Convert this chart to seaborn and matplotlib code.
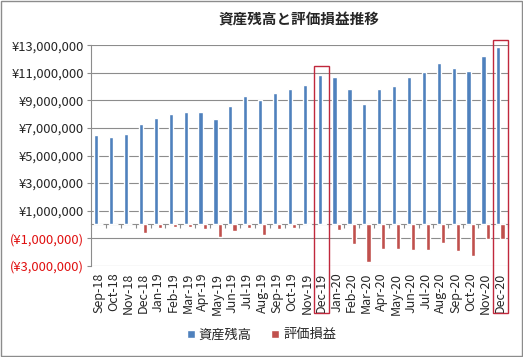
import numpy as np
import pandas as pd
import matplotlib
matplotlib.use('Agg')
import matplotlib.pyplot as plt
import seaborn as sns
from matplotlib.patches import Patch, Rectangle

months = ['Sep-18', 'Oct-18', 'Nov-18', 'Dec-18', 'Jan-19', 'Feb-19', 'Mar-19',
          'Apr-19', 'May-19', 'Jun-19', 'Jul-19', 'Aug-19', 'Sep-19', 'Oct-19',
          'Nov-19', 'Dec-19', 'Jan-20', 'Feb-20', 'Mar-20', 'Apr-20', 'May-20',
          'Jun-20', 'Jul-20', 'Aug-20', 'Sep-20', 'Oct-20', 'Nov-20', 'Dec-20']

# 資産残高 (asset balance)
balance = [6490000, 6370000, 6560000, 7290000, 7750000, 8010000, 8160000,
           8160000, 7670000, 8590000, 9320000, 9030000, 9540000, 9830000,
           10120000, 10840000, 10700000, 9830000, 8740000, 9830000, 10050000,
           10700000, 11060000, 11710000, 11350000, 11130000, 12220000, 12880000]

# 評価損益 (unrealized gain/loss)
gain = [0, 0, 0, -600000, -240000, -170000, -170000,
        -310000, -890000, -460000, -240000, -750000, -310000, -240000,
        -70000, 120000, -380000, -1400000, -2700000, -1760000, -1760000,
        -1840000, -1840000, -1330000, -1910000, -2270000, -1040000, -1040000]

series_names = ['資産残高', '評価損益']
highlight = ['Dec-19', 'Dec-20']

blue = '#4F81BD'
red = '#C0504D'
grid_gray = '#8C8C8C'

df = pd.DataFrame({
    'month': months * 2,
    'series': [series_names[0]] * len(months) + [series_names[1]] * len(months),
    'value': balance + gain,
})

sns.set_style('white')
plt.rcParams['font.family'] = ['Noto Sans CJK JP', 'DejaVu Sans']

fig = plt.figure(figsize=(5.23, 3.57), dpi=100)
ax = fig.add_axes([0.174, 0.2557, 0.797, 0.6173])

sns.barplot(data=df, x='month', y='value', hue='series', hue_order=series_names,
            palette=[blue, red], width=0.56, saturation=1, legend=False, ax=ax)

ymin, ymax = -3000000, 13000000
ax.set_ylim(ymin, ymax)
ax.set_xlim(-0.5, len(months) - 0.5)

yticks = np.arange(ymin, ymax + 1, 2000000)
ylabels = [f'¥{v:,}' if v >= 0 else f'(¥{abs(v):,})' for v in yticks]
ax.set_yticks(yticks, ylabels)
for t, v in zip(ax.get_yticklabels(), yticks):
    if v < 0:
        t.set_color('#E01010')
ax.tick_params(axis='y', labelsize=9.3, length=3, width=0.8, color=grid_gray, pad=2, left=True)
ax.yaxis.grid(True, color=grid_gray, linewidth=0.8)
ax.set_axisbelow(True)

ax.tick_params(axis='x', labelsize=9, rotation=90, length=0, pad=5)
ax.set_xlabel('')
ax.set_ylabel('')

for s in ['top', 'right', 'bottom']:
    ax.spines[s].set_visible(False)
ax.spines['left'].set_color(grid_gray)
ax.spines['left'].set_linewidth(0.8)

# category axis crossing at zero, tick marks between categories
zero_frac = (0 - ymin) / (ymax - ymin)
cat_ax = ax.secondary_xaxis(zero_frac)
cat_ax.set_alignment('bottom')
cat_ax.set_xticks(np.arange(len(months)) + 0.5)
cat_ax.set_xticklabels([])
cat_ax.tick_params(direction='out', length=3, width=0.8, color=grid_gray)
cat_ax.spines['bottom'].set_visible(True)
cat_ax.spines['bottom'].set_color(grid_gray)
cat_ax.spines['bottom'].set_linewidth(0.8)
for s in ['top', 'left', 'right']:
    cat_ax.spines[s].set_visible(False)

ax.set_title('資産残高と評価損益推移', fontsize=10.5, fontweight='bold', pad=15)

# red highlight boxes
box_tops = {'Dec-19': 11500000, 'Dec-20': 13400000}
box_bottom = -6450000
for m in highlight:
    i = months.index(m)
    ax.add_patch(Rectangle((i - 0.5, box_bottom), 1, box_tops[m] - box_bottom,
                           fill=False, edgecolor='#C0283C', linewidth=1, clip_on=False,
                           zorder=5))

handles = [Patch(facecolor=blue), Patch(facecolor=red)]
fig.legend(handles, series_names, loc='center', bbox_to_anchor=(0.5, 0.062), ncol=2,
           frameon=False, fontsize=9.5, handlelength=0.6, handleheight=0.6,
           handletextpad=0.3, columnspacing=1.5)

fig.patches.append(Rectangle((0.001, 0.002), 0.997, 0.995, transform=fig.transFigure,
                             fill=False, edgecolor='#8C8C8C', linewidth=1))

fig.savefig('out.png', dpi=100)
